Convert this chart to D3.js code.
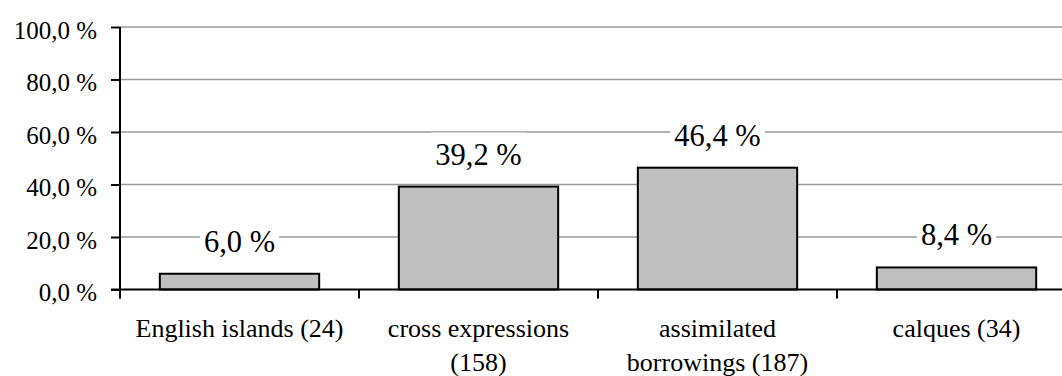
<!DOCTYPE html>
<html>
<head>
<meta charset="utf-8">
<script src="https://cdn.jsdelivr.net/npm/d3@7"></script>
<style>
  html, body { margin: 0; padding: 0; background: #fff; }
  svg { display: block; }
</style>
</head>
<body>
<svg id="chart" width="1062" height="376"></svg>
<script>
// Share of each borrowing type (count in brackets)
const categories = ["English islands (24)", "cross expressions (158)", "assimilated borrowings (187)", "calques (34)"];
const categoryLines = [["English islands (24)"], ["cross expressions", "(158)"], ["assimilated", "borrowings (187)"], ["calques (34)"]];
const shares = [6.0, 39.2, 46.4, 8.4];
const yTicks = [0, 20, 40, 60, 80, 100];

const FONT = "'Liberation Serif', 'Times New Roman', serif";
const fmt = v => v.toFixed(1).replace(".", ",") + " %";

const svg = d3.select("#chart");
const plot = { left: 120, right: 1076, top: 27, bottom: 289.5 };

const x = d3.scaleBand()
  .domain(categories)
  .range([plot.left, plot.right])
  .paddingInner(1 / 3)
  .paddingOuter(1 / 6);

const y = d3.scaleLinear().domain([0, 100]).range([plot.bottom, plot.top]);

// Horizontal gridlines
svg.append("g")
  .selectAll("line")
  .data(yTicks.filter(t => t > 0))
  .join("line")
  .attr("x1", plot.left).attr("x2", plot.right)
  .attr("y1", d => y(d)).attr("y2", d => y(d))
  .attr("stroke", "#9a9a9a")
  .attr("stroke-width", 1.5);

// Bars
svg.append("g")
  .selectAll("rect")
  .data(shares)
  .join("rect")
  .attr("x", (d, i) => x(categories[i]))
  .attr("y", d => y(d))
  .attr("width", x.bandwidth())
  .attr("height", d => y(0) - y(d))
  .attr("fill", "#c0c0c0")
  .attr("stroke", "#000")
  .attr("stroke-width", 2);

// Y axis
const yAxis = d3.axisLeft(y)
  .tickValues(yTicks)
  .tickSize(9)
  .tickPadding(14)
  .tickFormat(fmt);

const gy = svg.append("g")
  .attr("transform", `translate(${plot.left},0)`)
  .call(yAxis);
gy.select(".domain").attr("stroke", "#000").attr("stroke-width", 2)
  .attr("d", `M0,${plot.top}V${plot.bottom + 9}`);
gy.selectAll(".tick line").attr("stroke", "#000").attr("stroke-width", 2);
gy.selectAll(".tick text")
  .attr("fill", "#000")
  .attr("dy", "0.45em")
  .style("font-family", FONT)
  .style("font-size", "25px");

// X axis line with tick marks at category boundaries
const step = x.step();
const gap = step - x.bandwidth();
const boundaries = categories.map(c => x(c) - gap / 2)
  .concat([x(categories[categories.length - 1]) + x.bandwidth() + gap / 2]);

const gx = svg.append("g");
gx.append("line")
  .attr("x1", plot.left - 9).attr("x2", plot.right)
  .attr("y1", y(0)).attr("y2", y(0))
  .attr("stroke", "#000").attr("stroke-width", 2);
gx.selectAll("line.tick")
  .data(boundaries)
  .join("line")
  .attr("class", "tick")
  .attr("x1", d => d).attr("x2", d => d)
  .attr("y1", y(0)).attr("y2", y(0) + 9)
  .attr("stroke", "#000").attr("stroke-width", 2);

// Category labels
const catText = gx.selectAll("text.cat")
  .data(categoryLines)
  .join("text")
  .attr("class", "cat")
  .attr("text-anchor", "middle")
  .attr("fill", "#000")
  .style("font-family", FONT)
  .style("font-size", "26px");
catText.each(function (lines, i) {
  const cx = x(categories[i]) + x.bandwidth() / 2;
  d3.select(this).selectAll("tspan")
    .data(lines)
    .join("tspan")
    .attr("x", cx)
    .attr("y", (d, j) => 337 + j * 34)
    .text(d => d);
});

// Value labels with white backing boxes
const lab = svg.append("g")
  .selectAll("g")
  .data(shares)
  .join("g");
lab.each(function (d, i) {
  const g = d3.select(this);
  const cx = x(categories[i]) + x.bandwidth() / 2;
  const base = y(d) - 22;
  const rect = g.append("rect").attr("fill", "#fff");
  const t = g.append("text")
    .attr("x", cx)
    .attr("y", base)
    .attr("text-anchor", "middle")
    .attr("fill", "#000")
    .style("font-family", FONT)
    .style("font-size", "30.5px")
    .text(fmt(d));
  const bb = t.node().getBBox();
  rect.attr("x", bb.x - 4).attr("y", base - 32)
    .attr("width", bb.width + 8).attr("height", 40);
});
</script>
</body>
</html>
